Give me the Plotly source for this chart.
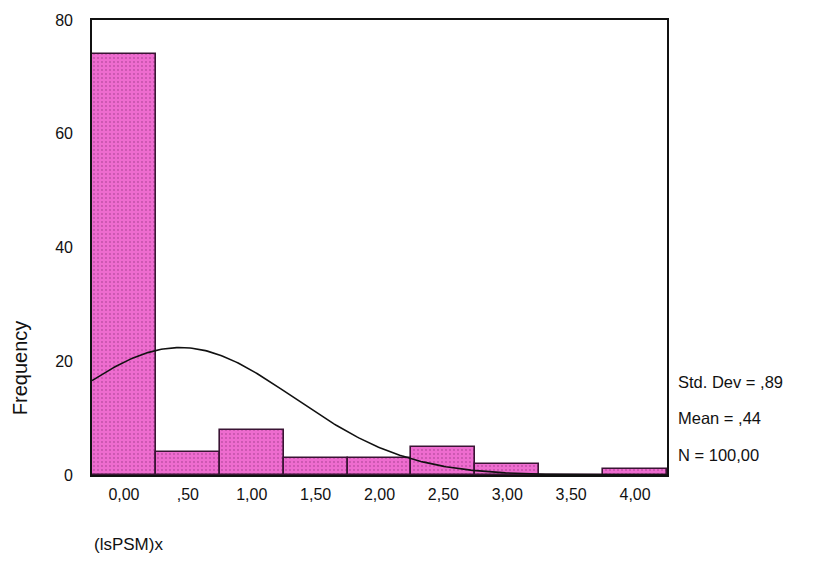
import numpy as np
import plotly.graph_objects as go

# Histogram of (lsPSM)x, bins of width 0.5
bin_centers = [0.0, 0.5, 1.0, 1.5, 2.0, 2.5, 3.0, 3.5, 4.0]
counts = [74, 4, 8, 3, 3, 5, 2, 0, 1]
tick_labels = ["0,00", ",50", "1,00", "1,50", "2,00", "2,50", "3,00", "3,50", "4,00"]
y_ticks = [0, 20, 40, 60, 80]

std_dev = 0.89
mean = 0.44
n_obs = 100
bin_width = 0.5

# fitted normal curve, scaled to counts per bin
xs = np.linspace(-0.25, 4.25, 300)
ys = n_obs * bin_width / (std_dev * np.sqrt(2 * np.pi)) * np.exp(-0.5 * ((xs - mean) / std_dev) ** 2)

font_family = "Liberation Sans, Arial, sans-serif"

fig = go.Figure()
fig.add_trace(go.Bar(
    x=bin_centers,
    y=counts,
    width=bin_width,
    marker=dict(
        color="#ee6ccf",
        line=dict(color="#3a1434", width=1.6),
        pattern=dict(shape=".", fgcolor="#8c2f7a", size=4, solidity=0.16),
    ),
    showlegend=False,
))
fig.add_trace(go.Scatter(
    x=xs, y=ys, mode="lines",
    line=dict(color="#111111", width=1.6),
    showlegend=False,
))

fig.update_layout(
    width=813, height=581,
    margin=dict(l=92, r=146, t=15, b=106),
    paper_bgcolor="white", plot_bgcolor="white",
    font=dict(family=font_family, size=16, color="#111111"),
    bargap=0,
    xaxis=dict(
        range=[-0.25, 4.25],
        tickvals=bin_centers, ticktext=tick_labels,
        showgrid=False, zeroline=False, ticks="",
        showline=True, mirror=True, linecolor="#111111", linewidth=1.6,
        ticklabelstandoff=4,
        tickfont=dict(size=16),
    ),
    yaxis=dict(
        range=[0, 80],
        tickvals=y_ticks, ticktext=[str(v) for v in y_ticks],
        showgrid=False, zeroline=False, ticks="",
        showline=True, mirror=True, linecolor="#111111", linewidth=1.6,
        ticklabelstandoff=14,
        tickfont=dict(size=16),
    ),
    annotations=[
        dict(text="Frequency", xref="paper", yref="paper", x=-0.125, y=0.235,
             textangle=-90, showarrow=False, font=dict(size=20),
             xanchor="center", yanchor="middle"),
        dict(text="(lsPSM)x", xref="paper", yref="paper", x=0.0, y=-0.152,
             showarrow=False, font=dict(size=17), xanchor="left", yanchor="middle"),
        dict(text="Std. Dev = ,89", xref="paper", yref="paper", x=1.0157, y=0.205,
             showarrow=False, font=dict(size=16.5), xanchor="left", yanchor="middle"),
        dict(text="Mean = ,44", xref="paper", yref="paper", x=1.0157, y=0.126,
             showarrow=False, font=dict(size=16.5), xanchor="left", yanchor="middle"),
        dict(text="N = 100,00", xref="paper", yref="paper", x=1.0157, y=0.045,
             showarrow=False, font=dict(size=16.5), xanchor="left", yanchor="middle"),
    ],
)

fig.write_html("out.html")
